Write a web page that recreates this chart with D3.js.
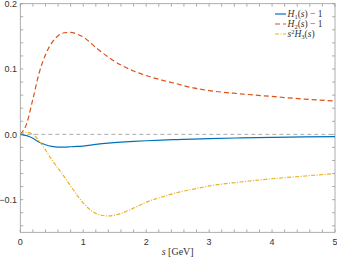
<!DOCTYPE html>
<html>
<head>
<meta charset="utf-8">
<script src="https://cdn.jsdelivr.net/npm/d3@7"></script>
<style>
  body { margin: 0; background: #fff; }
</style>
</head>
<body>
<div class="canvas"></div>
<script>

// data
var sVals = [0, 0.1, 0.2, 0.3, 0.4, 0.5, 0.6, 0.7, 0.8, 0.9, 1.0, 1.2, 1.4, 1.6, 1.8, 2.0, 2.25, 2.5, 2.75, 3.0, 3.5, 4.0, 4.5, 5.0];
var h1 = [0, -0.002, -0.006, -0.012, -0.016, -0.0185, -0.0195, -0.0195, -0.019, -0.0185, -0.018, -0.0155, -0.0135, -0.012, -0.0108, -0.0098, -0.0088, -0.008, -0.0072, -0.0065, -0.0055, -0.0047, -0.004, -0.0035];
var h2 = [0, 0.016, 0.054, 0.094, 0.122, 0.140, 0.151, 0.1555, 0.156, 0.1535, 0.149, 0.133, 0.118, 0.106, 0.097, 0.090, 0.083, 0.077, 0.071, 0.067, 0.062, 0.058, 0.054, 0.051];
var h3 = [0, 0.003, 0.0, -0.010, -0.024, -0.039, -0.052, -0.065, -0.079, -0.093, -0.105, -0.121, -0.125, -0.121, -0.113, -0.104, -0.096, -0.089, -0.084, -0.079, -0.073, -0.068, -0.064, -0.060];

var xTicks = [0, 1, 2, 3, 4, 5];
var yTicks = [-0.1, 0, 0.1, 0.2];

var W = 337, H = 259;
var margin = {t:3.7, l:20.3, b:26.7, r:2};
var sans = "'Liberation Sans', Arial, sans-serif";
var serif = "'Liberation Serif', 'Times New Roman', serif";

var svg = d3.select('.canvas')
    .append('svg')
    .attr('width', W)
    .attr('height', H);

var x = d3.scaleLinear().domain([0, 5]).range([margin.l, 335]);
var y = d3.scaleLinear().domain([-0.15, 0.2]).range([232.3, margin.t]);

var axisCol = "#999";
var textCol = "#333";

// box
svg.append("rect")
    .attr("x", x(0)).attr("y", y(0.2))
    .attr("width", x(5) - x(0)).attr("height", y(-0.15) - y(0.2))
    .attr("fill", "none").attr("stroke", axisCol).attr("stroke-width", 0.8);

// ticks (inward, all four sides)
var xMinor = d3.range(0, 5.001, 0.2);
var yMinor = d3.range(-0.14, 0.2001, 0.02);
var tk = svg.append("g").attr("stroke", axisCol).attr("stroke-width", 0.8);
xMinor.forEach(function(v){
    tk.append("line").attr("x1", x(v)).attr("x2", x(v)).attr("y1", y(-0.15)).attr("y2", y(-0.15) - 3);
    tk.append("line").attr("x1", x(v)).attr("x2", x(v)).attr("y1", y(0.2)).attr("y2", y(0.2) + 3);
});
yMinor.forEach(function(v){
    tk.append("line").attr("y1", y(v)).attr("y2", y(v)).attr("x1", x(0)).attr("x2", x(0) + 3);
    tk.append("line").attr("y1", y(v)).attr("y2", y(v)).attr("x1", x(5)).attr("x2", x(5) - 3);
});

// tick labels
svg.selectAll(".xl").data(xTicks).enter().append("text")
    .attr("x", function(d){ return x(d); })
    .attr("y", 245)
    .attr("text-anchor", "middle")
    .attr("font-family", sans)
    .attr("font-size", "9px")
    .attr("fill", textCol)
    .text(function(d){ return d; });

svg.selectAll(".yl").data(yTicks).enter().append("text")
    .attr("x", 17)
    .attr("y", function(d){ return y(d) + 3.2; })
    .attr("text-anchor", "end")
    .attr("font-family", sans)
    .attr("font-size", "9px")
    .attr("fill", textCol)
    .text(function(d){ return d3.format(".1f")(d); });

// x label
var xl = svg.append("text")
    .attr("x", x(2.5))
    .attr("y", 255)
    .attr("text-anchor", "middle")
    .attr("font-size", "10px")
    .attr("fill", textCol)
    .attr("font-family", serif);
xl.append("tspan").attr("font-style", "italic").text("s");
xl.append("tspan").text(" [GeV]");

// zero line
svg.append("line")
    .attr("x1", x(0)).attr("x2", x(5))
    .attr("y1", y(0)).attr("y2", y(0))
    .attr("stroke", "#aaa").attr("stroke-width", 1)
    .attr("stroke-dasharray", "4,3");

var line = d3.line()
    .x(function(d){ return x(d[0]); })
    .y(function(d){ return y(d[1]); })
    .curve(d3.curveMonotoneX);

var styles = [
    {data: h1, color: "#0072BD", dash: null},
    {data: h2, color: "#D95319", dash: "5,3"},
    {data: h3, color: "#EDB120", dash: "4,1.5,1,1.5"}
];

styles.forEach(function(st){
    svg.append("path")
        .datum(sVals.map(function(s, i){ return [s, st.data[i]]; }))
        .attr("fill", "none")
        .attr("stroke", st.color)
        .attr("stroke-width", 1.2)
        .attr("stroke-dasharray", st.dash)
        .attr("d", line);
});

// legend
var leg = svg.append("g");
styles.forEach(function(st, i){
    var ly = 14 + i * 10;
    leg.append("line")
        .attr("x1", 275).attr("x2", 286)
        .attr("y1", ly).attr("y2", ly)
        .attr("stroke", st.color).attr("stroke-width", 1.2)
        .attr("stroke-dasharray", st.dash);
    var t = leg.append("text")
        .attr("x", 287.5).attr("y", ly + 3)
        .attr("font-family", serif)
        .attr("font-size", "9.5px")
        .attr("fill", textCol);
    if (i < 2) {
        t.append("tspan").attr("font-style", "italic").text("H");
        t.append("tspan").attr("font-size", "6.5px").attr("dy", 1.5).text(i + 1);
        t.append("tspan").attr("dy", -1.5).text("(");
        t.append("tspan").attr("font-style", "italic").text("s");
        t.append("tspan").text(") \u2212 1");
    } else {
        t.append("tspan").attr("font-style", "italic").text("s");
        t.append("tspan").attr("font-size", "6.5px").attr("dy", -3.5).text("2");
        t.append("tspan").attr("font-style", "italic").attr("dy", 3.5).text("H");
        t.append("tspan").attr("font-size", "6.5px").attr("dy", 1.5).text("3");
        t.append("tspan").attr("dy", -1.5).text("(");
        t.append("tspan").attr("font-style", "italic").text("s");
        t.append("tspan").text(")");
    }
});

</script>
</body>
</html>
